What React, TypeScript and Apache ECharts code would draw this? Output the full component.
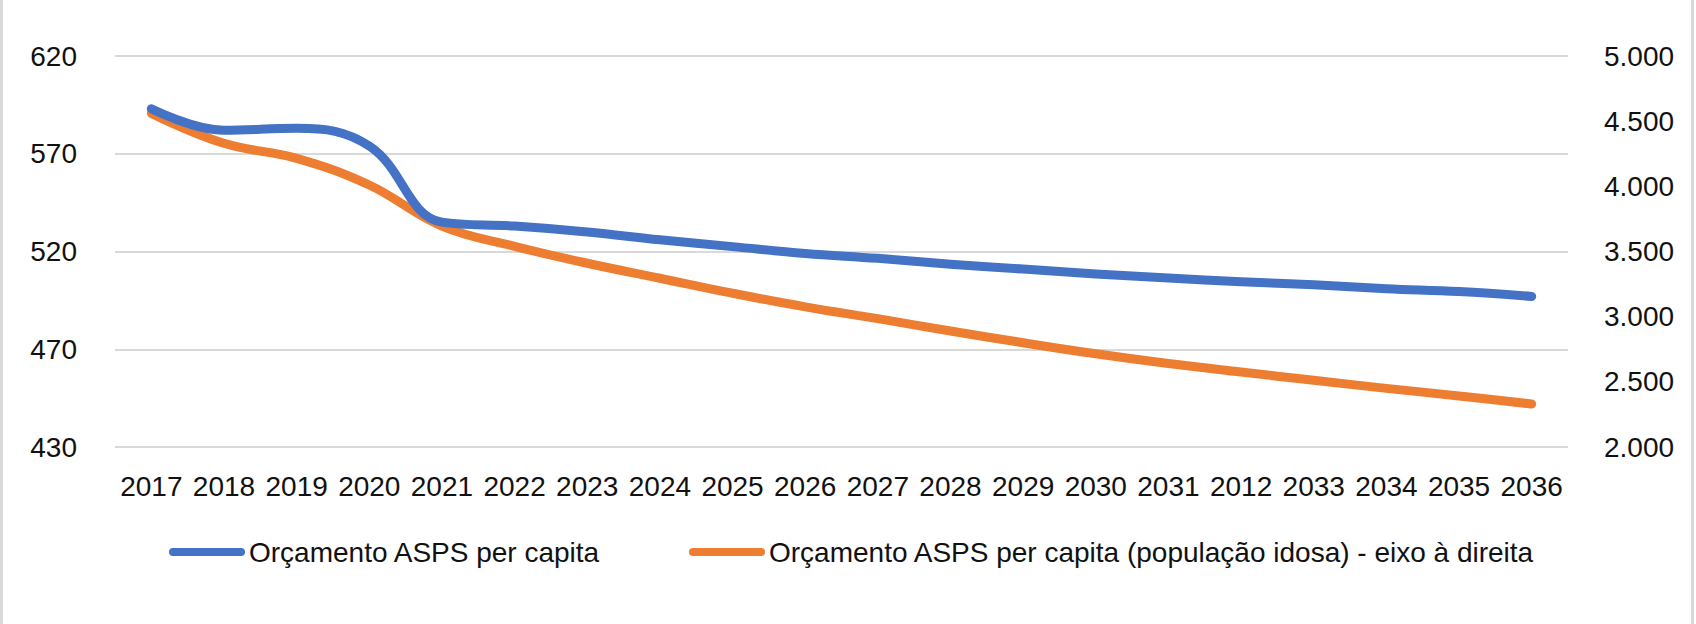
import React, { useEffect, useRef } from "react";
import * as echarts from "echarts";

const categories = [
  "2017", "2018", "2019", "2020", "2021", "2022", "2023", "2024", "2025", "2026",
  "2027", "2028", "2029", "2030", "2031", "2012", "2033", "2034", "2035", "2036",
];

const seriesNames = [
  "Orçamento ASPS per capita",
  "Orçamento ASPS per capita (população idosa) - eixo à direita",
];

const perCapita = [
  593, 582, 583, 574, 535, 533, 530, 526, 522.5, 519,
  516.5, 513.5, 511, 508.5, 506.5, 504.5, 503, 501, 499.5, 497,
];

const perCapitaIdosa = [
  4560, 4330, 4215, 4010, 3695, 3540, 3410, 3295, 3180, 3075,
  2985, 2890, 2800, 2715, 2640, 2575, 2512, 2450, 2392, 2330,
];

const leftTickLabels = ["430", "470", "520", "570", "620"];
const rightTickLabels = ["2.000", "2.500", "3.000", "3.500", "4.000", "4.500", "5.000"];

const FONT = "'Liberation Sans', Arial, sans-serif";
const TEXT = "#111111";
const BLUE = "#4472C4";
const ORANGE = "#ED7D31";
const GRID = "#d9d9d9";

const legendIcon = "path://M4,0 L72,0 A4,4 0 0 1 72,8 L4,8 A4,4 0 0 1 4,0 Z";

export default function App() {
  const ref = useRef<HTMLDivElement>(null);

  useEffect(() => {
    document.body.style.margin = "0";
    if (!ref.current) return;
    const chart = echarts.init(ref.current, undefined, { renderer: "svg" });
    const legendText = { fontFamily: FONT, fontSize: 28, color: TEXT };
    chart.setOption({
      animation: false,
      backgroundColor: "#ffffff",
      grid: { left: 115, right: 128, top: 56, bottom: 177, containLabel: false },
      xAxis: {
        type: "category",
        data: categories,
        boundaryGap: true,
        axisLine: { show: false },
        axisTick: { show: false },
        axisLabel: {
          margin: 25,
          fontFamily: FONT,
          fontSize: 28,
          color: TEXT,
          interval: 0,
        },
        splitLine: { show: false },
      },
      yAxis: [
        {
          type: "value",
          min: 420,
          max: 620,
          interval: 50,
          position: "left",
          axisLine: { show: false },
          axisTick: { show: false },
          axisLabel: {
            margin: 38,
            fontFamily: FONT,
            fontSize: 28,
            color: TEXT,
            formatter: (v: number) => leftTickLabels[Math.round((v - 420) / 50)] ?? "",
          },
          splitLine: { show: true, lineStyle: { color: GRID, width: 2 } },
        },
        {
          type: "value",
          min: 2000,
          max: 5000,
          interval: 500,
          position: "right",
          axisLine: { show: false },
          axisTick: { show: false },
          axisLabel: {
            margin: 36,
            fontFamily: FONT,
            fontSize: 28,
            color: TEXT,
            formatter: (v: number) => rightTickLabels[Math.round((v - 2000) / 500)] ?? "",
          },
          splitLine: { show: false },
        },
      ],
      legend: [
        {
          data: [{ name: seriesNames[0], icon: legendIcon }],
          left: 169,
          top: 538,
          itemWidth: 76,
          itemHeight: 8,
          itemGap: 0,
          padding: 0,
          textStyle: { ...legendText, padding: [0, 0, 0, -1] },
        },
        {
          data: [{ name: seriesNames[1], icon: legendIcon }],
          left: 689,
          top: 538,
          itemWidth: 76,
          itemHeight: 8,
          itemGap: 0,
          padding: 0,
          textStyle: { ...legendText, padding: [0, 0, 0, -1] },
        },
      ],
      series: [
        {
          name: seriesNames[0],
          type: "line",
          yAxisIndex: 0,
          data: perCapita,
          smooth: 0.4,
          showSymbol: false,
          symbol: "none",
          color: BLUE,
          lineStyle: { color: BLUE, width: 9, cap: "round", join: "round" },
          z: 3,
        },
        {
          name: seriesNames[1],
          type: "line",
          yAxisIndex: 1,
          data: perCapitaIdosa,
          smooth: 0.4,
          showSymbol: false,
          symbol: "none",
          color: ORANGE,
          lineStyle: { color: ORANGE, width: 9, cap: "round", join: "round" },
          z: 2,
        },
      ],
      graphic: [
        { type: "rect", shape: { x: 0, y: 0, width: 3, height: 624 }, style: { fill: GRID } },
        { type: "rect", shape: { x: 1691, y: 0, width: 3, height: 624 }, style: { fill: GRID } },
      ],
    });
    return () => chart.dispose();
  }, []);

  return <div ref={ref} style={{ width: 1696, height: 624 }} />;
}
